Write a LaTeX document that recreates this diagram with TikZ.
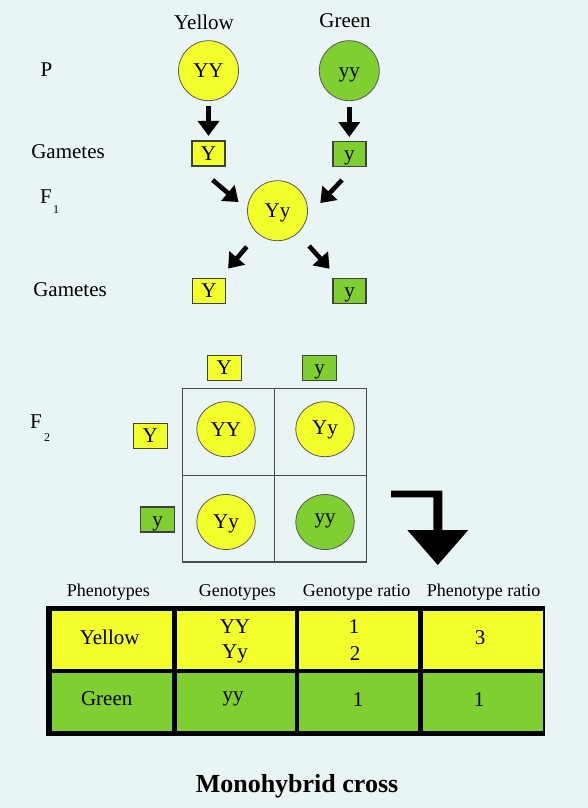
\documentclass[tikz,border=0pt]{standalone}
\usepackage{fontspec}
\setmainfont{Liberation Serif}
\usetikzlibrary{arrows.meta,shapes.geometric}
\definecolor{bg}{RGB}{233,244,244}
\definecolor{yel}{RGB}{243,255,43}
\definecolor{grn}{RGB}{127,207,49}
\begin{document}
\begin{tikzpicture}[x=1pt,y=-1pt,
  txt/.style={font=\fontsize{21}{24}\selectfont, inner sep=0pt, text height=13.9pt, text depth=0pt},
  hdr/.style={font=\fontsize{18}{20}\selectfont, inner sep=0pt, text height=11.9pt, text depth=0pt},
  subs/.style={font=\fontsize{12}{14}\selectfont, inner sep=0pt, text height=8pt, text depth=0pt},
  pcirc/.style={txt, ellipse, draw=black!65, line width=0.8pt, minimum width=60pt, minimum height=60pt},
  qcirc/.style={txt, ellipse, draw=black!65, line width=0.8pt, minimum width=58.5pt, minimum height=55pt},
  gbox/.style={txt, rectangle, draw=black!75, line width=1.6pt, minimum width=33pt, minimum height=25pt},
  bigarr/.style={line width=4.6pt, -{Triangle[width=21pt,length=15pt]}},
  diagarr/.style={line width=4.6pt, -{Triangle[width=20pt,length=14pt]}},
  gridline/.style={draw=black!70, line width=1.1pt},
  cell/.style={txt, rectangle, inner sep=0pt},
]
\useasboundingbox (0,0) rectangle (588,808);
\fill[bg] (0,0) rectangle (588,808);

% ---- top labels
\node[txt] (lyellow) at (204,22.8) {Yellow};
\node[txt] (lgreen) at (345,20.8) {Green};
\node[txt] (lP) at (46.5,70) {P};
\node[txt] (lgam1) at (68,151.5) {Gametes};
\node[txt] (lF1) at (46,197) {F};
\node[subs] (lF1s) at (56,209) {1};
\node[txt] (lgam2) at (70,289.5) {Gametes};

% ---- P generation
\node[pcirc, fill=yel] (YY) at (208.5,70.7) {YY};
\node[pcirc, fill=grn] (yy) at (349.3,70.7) {yy};
\node[gbox, fill=yel] (gY1) at (208.5,153.7) {Y};
\node[gbox, fill=grn] (gy1) at (349.3,153.8) {y};
\draw[bigarr, shorten <=4.5pt, shorten >=4.5pt] (YY) -- (gY1);
\draw[bigarr, shorten <=5.5pt, shorten >=3.5pt] (yy) -- (gy1);

% ---- F1
\node[pcirc, fill=yel] (F1) at (277.5,210.7) {Yy};
\coordinate (d1s) at (212.6,180);
\coordinate (d1e) at (238.5,202);
\coordinate (d2s) at (342,180);
\coordinate (d2e) at (320.3,203);
\draw[diagarr] (d1s) -- (d1e);
\draw[diagarr] (d2s) -- (d2e);

\node[gbox, fill=yel] (gY2) at (209,291) {Y};
\node[gbox, fill=grn] (gy2) at (349.5,291) {y};
\draw[diagarr, shorten <=17pt, shorten >=12pt] (F1) -- (gY2);
\draw[diagarr, shorten <=17pt, shorten >=12pt] (F1) -- (gy2);

% ---- Punnett square
\node[txt] (lF2) at (36,422) {F};
\node[subs] (lF2s) at (47,437) {2};
\node[gbox, fill=yel, minimum width=34pt] (tY) at (224.3,368) {Y};
\node[gbox, fill=grn, minimum width=34pt] (ty) at (319.5,368) {y};
\node[gbox, fill=yel, minimum width=34pt] (sY) at (150.3,436) {Y};
\node[gbox, fill=grn, minimum width=34pt] (sy) at (157.5,519.3) {y};
\draw[gridline] (182.3,388.3) rectangle (366.3,562);
\draw[gridline] (274.3,388.3) -- (274.3,562);
\draw[gridline] (182.3,475.3) -- (366.3,475.3);
\node[qcirc, fill=yel] (cYY) at (226,429.2) {YY};
\node[qcirc, fill=yel] (cYy1) at (325,429.2) {\raisebox{1.5pt}{Yy}};
\node[qcirc, fill=yel] (cYy2) at (226,522) {Yy};
\node[qcirc, fill=grn] (cyy) at (325,522) {\raisebox{5pt}{yy}};

% ---- bent arrow
\fill[black] (391,490.7) -- (442.3,490.7) -- (442.3,530) -- (468.3,530) -- (437.8,565)
  -- (407.3,530) -- (433.3,530) -- (433.3,497.3) -- (391,497.3) -- cycle;

% ---- table
\node[hdr] (h1) at (108.3,590.8) {Phenotypes};
\node[hdr] (h2) at (237.3,590.8) {Genotypes};
\node[hdr] (h3) at (356.7,590.8) {Genotype ratio};
\node[hdr] (h4) at (483.7,590.8) {Phenotype ratio};
\fill[black] (46,606) rectangle (545,736);
\fill[yel] (51.7,611.3) rectangle (172.3,668.7);
\fill[yel] (177,611.3) rectangle (295,668.7);
\fill[yel] (299.3,611.3) rectangle (418.3,668.7);
\fill[yel] (422.7,611.3) rectangle (542.7,668.7);
\fill[grn] (51.7,673) rectangle (172.3,730.5);
\fill[grn] (177,673) rectangle (295,730.5);
\fill[grn] (299.3,673) rectangle (418.3,730.5);
\fill[grn] (422.7,673) rectangle (542.7,730.5);

\node[cell] (t11) at (109.7,637.5) {Yellow};
\node[cell] (t12a) at (235,626.7) {YY};
\node[cell] (t12b) at (235,652) {Yy};
\node[cell] (t13a) at (354,626.7) {1};
\node[cell] (t13b) at (355,654) {2};
\node[cell] (t14) at (480,638) {3};
\node[cell] (t21) at (106.7,699) {Green};
\node[cell] (t22) at (233,695) {yy};
\node[cell] (t23) at (358,700) {1};
\node[cell] (t24) at (479,700) {1};

% ---- title
\node[font=\bfseries\fontsize{26}{30}\selectfont, inner sep=0pt, text height=17.2pt, text depth=0pt] (title) at (297,784) {Monohybrid cross};
\end{tikzpicture}
\end{document}
